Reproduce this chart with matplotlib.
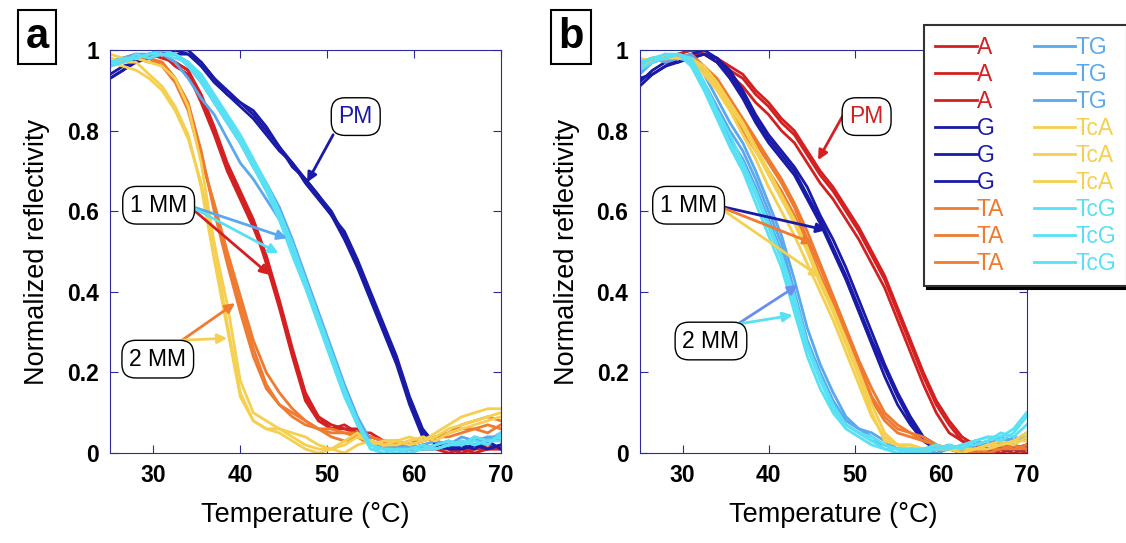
import matplotlib
matplotlib.use("Agg")
import matplotlib.pyplot as plt

plt.rcParams['font.family'] = ['Liberation Sans', 'DejaVu Sans']

# temperature grid shared by all melting curves (deg C)
temps = [25, 26.5, 28, 29.5, 31, 32.5, 34, 35.5, 37, 38.5, 40, 41.5, 43, 44.5, 46,
         47.5, 49, 50.5, 52, 53.5, 55, 56.5, 58, 59.5, 61, 62.5, 64, 65.5, 67, 68.5, 70]

names = ["A", "G", "TA", "TG", "TcA", "TcG"]
colors = {"A": "#d42020", "G": "#1a1aa8", "TA": "#ef7a30",
          "TG": "#5aa8ee", "TcA": "#f5d050", "TcG": "#58e0f5"}

# ---- panel a : probe with A ----
a_A = [
    [0.97, 0.98, 0.98, 0.99, 0.99, 0.97, 0.95, 0.88, 0.80, 0.71, 0.64, 0.57, 0.47, 0.36, 0.24, 0.13,
     0.08, 0.06, 0.07, 0.05, 0.04, 0.03, 0.02, 0.01, 0.01, 0.01, 0.0, 0.01, 0.01, 0.01, 0.01],
    [0.96, 0.98, 0.99, 0.98, 0.99, 0.96, 0.94, 0.87, 0.79, 0.70, 0.63, 0.56, 0.48, 0.37, 0.25, 0.14,
     0.09, 0.07, 0.06, 0.06, 0.03, 0.02, 0.02, 0.01, 0.02, 0.01, 0.01, 0.0, 0.01, 0.02, 0.01],
    [0.97, 0.97, 0.98, 0.99, 0.98, 0.97, 0.95, 0.89, 0.81, 0.72, 0.65, 0.58, 0.49, 0.38, 0.26, 0.15,
     0.09, 0.06, 0.06, 0.05, 0.05, 0.03, 0.01, 0.01, 0.01, 0.02, 0.01, 0.01, 0.0, 0.01, 0.01],
]
a_G = [
    [0.93, 0.95, 0.97, 0.98, 0.99, 1.0, 0.99, 0.97, 0.93, 0.90, 0.87, 0.84, 0.80, 0.76, 0.72, 0.68,
     0.64, 0.60, 0.54, 0.47, 0.39, 0.31, 0.23, 0.13, 0.05, 0.03, 0.02, 0.01, 0.02, 0.01, 0.02],
    [0.94, 0.96, 0.97, 0.99, 1.0, 0.99, 0.99, 0.96, 0.92, 0.89, 0.86, 0.83, 0.79, 0.75, 0.72, 0.67,
     0.63, 0.59, 0.55, 0.48, 0.40, 0.32, 0.24, 0.14, 0.06, 0.02, 0.01, 0.02, 0.01, 0.03, 0.01],
    [0.93, 0.95, 0.98, 0.98, 0.99, 1.0, 1.0, 0.97, 0.93, 0.89, 0.87, 0.85, 0.81, 0.76, 0.71, 0.68,
     0.64, 0.59, 0.53, 0.46, 0.38, 0.30, 0.22, 0.12, 0.04, 0.03, 0.01, 0.01, 0.02, 0.01, 0.02],
]
a_TA = [
    [0.97, 0.98, 0.98, 0.98, 0.97, 0.93, 0.86, 0.74, 0.61, 0.48, 0.37, 0.26, 0.17, 0.12, 0.09, 0.07,
     0.06, 0.05, 0.05, 0.05, 0.04, 0.03, 0.02, 0.03, 0.03, 0.04, 0.05, 0.06, 0.06, 0.07, 0.06],
    [0.96, 0.97, 0.99, 0.98, 0.96, 0.92, 0.85, 0.73, 0.62, 0.50, 0.39, 0.28, 0.20, 0.15, 0.11, 0.08,
     0.06, 0.04, 0.03, 0.04, 0.02, 0.02, 0.03, 0.02, 0.03, 0.04, 0.04, 0.05, 0.06, 0.05, 0.07],
    [0.97, 0.98, 0.98, 0.97, 0.97, 0.93, 0.87, 0.75, 0.60, 0.47, 0.35, 0.24, 0.16, 0.12, 0.10, 0.08,
     0.06, 0.06, 0.05, 0.04, 0.04, 0.03, 0.03, 0.02, 0.03, 0.04, 0.05, 0.07, 0.08, 0.09, 0.08],
]
a_TG = [
    [0.97, 0.98, 0.98, 0.99, 0.99, 0.99, 0.96, 0.92, 0.87, 0.82, 0.77, 0.71, 0.66, 0.60, 0.51, 0.43,
     0.34, 0.25, 0.16, 0.08, 0.02, 0.01, 0.01, 0.02, 0.01, 0.02, 0.03, 0.02, 0.04, 0.03, 0.05],
    [0.97, 0.98, 0.99, 0.98, 0.99, 0.97, 0.93, 0.88, 0.84, 0.78, 0.72, 0.68, 0.63, 0.58, 0.50, 0.42,
     0.33, 0.24, 0.15, 0.07, 0.02, 0.01, 0.02, 0.01, 0.02, 0.03, 0.02, 0.04, 0.03, 0.04, 0.03],
    [0.98, 0.97, 0.99, 0.99, 1.0, 0.99, 0.97, 0.93, 0.88, 0.83, 0.78, 0.72, 0.67, 0.61, 0.53, 0.44,
     0.35, 0.26, 0.17, 0.09, 0.03, 0.01, 0.01, 0.02, 0.01, 0.01, 0.02, 0.03, 0.02, 0.04, 0.04],
]
a_TcA = [
    [0.98, 0.97, 0.97, 0.94, 0.91, 0.86, 0.79, 0.66, 0.48, 0.31, 0.14, 0.08, 0.06, 0.06, 0.04, 0.02,
     0.01, 0.01, 0.03, 0.05, 0.02, 0.03, 0.03, 0.02, 0.03, 0.04, 0.06, 0.07, 0.08, 0.09, 0.10],
    [0.99, 0.98, 0.98, 0.97, 0.96, 0.93, 0.86, 0.72, 0.52, 0.32, 0.15, 0.08, 0.06, 0.05, 0.03, 0.01,
     0.0, 0.01, 0.02, 0.04, 0.03, 0.02, 0.03, 0.04, 0.03, 0.05, 0.07, 0.09, 0.10, 0.11, 0.11],
    [0.97, 0.96, 0.95, 0.93, 0.90, 0.85, 0.78, 0.67, 0.52, 0.37, 0.18, 0.10, 0.08, 0.06, 0.05, 0.04,
     0.02, 0.01, 0.0, 0.02, 0.03, 0.02, 0.02, 0.03, 0.04, 0.03, 0.05, 0.06, 0.07, 0.08, 0.09],
]
a_TcG = [
    [0.96, 0.97, 0.98, 0.99, 0.99, 0.99, 0.97, 0.93, 0.88, 0.83, 0.78, 0.72, 0.66, 0.59, 0.50, 0.42,
     0.33, 0.24, 0.15, 0.08, 0.01, 0.0, 0.01, 0.01, 0.02, 0.01, 0.02, 0.03, 0.02, 0.03, 0.04],
    [0.97, 0.98, 0.98, 0.99, 1.0, 0.99, 0.96, 0.92, 0.87, 0.82, 0.77, 0.71, 0.65, 0.58, 0.49, 0.41,
     0.32, 0.23, 0.14, 0.07, 0.01, 0.01, 0.0, 0.01, 0.01, 0.02, 0.03, 0.02, 0.03, 0.02, 0.05],
    [0.97, 0.97, 0.99, 0.98, 0.99, 0.98, 0.97, 0.94, 0.89, 0.84, 0.79, 0.73, 0.67, 0.60, 0.52, 0.43,
     0.34, 0.25, 0.16, 0.08, 0.02, 0.01, 0.01, 0.0, 0.01, 0.01, 0.02, 0.02, 0.04, 0.03, 0.03],
]

# ---- panel b : probe with G ----
b_A = [
    [0.96, 0.97, 0.98, 0.99, 1.0, 0.99, 0.98, 0.95, 0.93, 0.89, 0.86, 0.82, 0.79, 0.74, 0.69, 0.65,
     0.60, 0.55, 0.49, 0.43, 0.35, 0.27, 0.19, 0.12, 0.07, 0.03, 0.02, 0.01, 0.01, 0.0, 0.01],
    [0.97, 0.98, 0.98, 0.99, 1.0, 0.99, 0.97, 0.94, 0.91, 0.87, 0.84, 0.80, 0.77, 0.72, 0.67, 0.63,
     0.58, 0.53, 0.47, 0.41, 0.33, 0.25, 0.17, 0.10, 0.05, 0.03, 0.01, 0.01, 0.0, 0.01, 0.02],
    [0.95, 0.97, 0.99, 0.98, 0.99, 0.99, 0.98, 0.96, 0.94, 0.90, 0.87, 0.83, 0.80, 0.75, 0.70, 0.66,
     0.61, 0.56, 0.50, 0.44, 0.36, 0.28, 0.20, 0.13, 0.08, 0.04, 0.02, 0.01, 0.01, 0.01, 0.0],
]
b_G = [
    [0.91, 0.94, 0.96, 0.97, 0.98, 0.99, 0.98, 0.94, 0.89, 0.83, 0.78, 0.74, 0.70, 0.64, 0.58, 0.51,
     0.44, 0.36, 0.28, 0.21, 0.14, 0.08, 0.03, 0.01, 0.01, 0.0, 0.01, 0.01, 0.01, 0.02, 0.01],
    [0.92, 0.95, 0.97, 0.97, 0.99, 1.0, 0.98, 0.95, 0.90, 0.84, 0.79, 0.75, 0.71, 0.66, 0.59, 0.53,
     0.46, 0.38, 0.30, 0.22, 0.15, 0.09, 0.04, 0.02, 0.01, 0.01, 0.0, 0.01, 0.02, 0.01, 0.02],
    [0.93, 0.94, 0.96, 0.98, 0.98, 0.99, 0.97, 0.93, 0.88, 0.82, 0.77, 0.73, 0.69, 0.63, 0.57, 0.50,
     0.43, 0.35, 0.27, 0.19, 0.12, 0.07, 0.03, 0.01, 0.01, 0.01, 0.01, 0.0, 0.01, 0.01, 0.01],
]
b_TA = [
    [0.96, 0.97, 0.98, 0.99, 0.98, 0.96, 0.92, 0.87, 0.82, 0.77, 0.72, 0.67, 0.61, 0.53, 0.46, 0.38,
     0.30, 0.22, 0.14, 0.09, 0.06, 0.05, 0.03, 0.02, 0.01, 0.01, 0.0, 0.01, 0.01, 0.01, 0.02],
    [0.97, 0.98, 0.98, 0.98, 0.99, 0.96, 0.93, 0.88, 0.83, 0.78, 0.73, 0.68, 0.62, 0.55, 0.47, 0.39,
     0.31, 0.23, 0.16, 0.10, 0.07, 0.05, 0.04, 0.02, 0.01, 0.0, 0.01, 0.01, 0.02, 0.01, 0.01],
    [0.96, 0.98, 0.97, 0.98, 0.98, 0.95, 0.91, 0.86, 0.80, 0.75, 0.70, 0.65, 0.59, 0.52, 0.44, 0.37,
     0.28, 0.20, 0.13, 0.08, 0.05, 0.04, 0.03, 0.02, 0.01, 0.01, 0.01, 0.0, 0.01, 0.02, 0.01],
]
b_TG = [
    [0.95, 0.97, 0.98, 0.99, 0.98, 0.92, 0.86, 0.80, 0.75, 0.68, 0.60, 0.52, 0.40, 0.28, 0.20, 0.13,
     0.08, 0.06, 0.04, 0.02, 0.01, 0.01, 0.01, 0.0, 0.01, 0.01, 0.02, 0.02, 0.03, 0.03, 0.04],
    [0.96, 0.98, 0.97, 0.98, 0.97, 0.91, 0.84, 0.78, 0.73, 0.66, 0.58, 0.50, 0.38, 0.27, 0.19, 0.12,
     0.07, 0.05, 0.03, 0.02, 0.01, 0.0, 0.01, 0.01, 0.01, 0.02, 0.03, 0.02, 0.04, 0.03, 0.05],
    [0.94, 0.97, 0.98, 0.98, 0.99, 0.94, 0.88, 0.82, 0.77, 0.70, 0.62, 0.54, 0.43, 0.31, 0.22, 0.15,
     0.09, 0.06, 0.05, 0.03, 0.01, 0.01, 0.0, 0.01, 0.02, 0.01, 0.02, 0.03, 0.02, 0.04, 0.03],
]
b_TcA = [
    [0.97, 0.98, 0.98, 0.98, 0.98, 0.95, 0.91, 0.86, 0.81, 0.75, 0.69, 0.63, 0.57, 0.50, 0.42, 0.35,
     0.27, 0.19, 0.10, 0.03, 0.02, 0.02, 0.01, 0.01, 0.01, 0.01, 0.01, 0.02, 0.03, 0.02, 0.04],
    [0.96, 0.97, 0.98, 0.99, 0.97, 0.94, 0.90, 0.85, 0.79, 0.73, 0.66, 0.60, 0.54, 0.47, 0.40, 0.33,
     0.25, 0.17, 0.09, 0.04, 0.02, 0.01, 0.01, 0.02, 0.01, 0.0, 0.01, 0.02, 0.02, 0.03, 0.03],
    [0.98, 0.97, 0.99, 0.98, 0.98, 0.96, 0.92, 0.87, 0.82, 0.76, 0.70, 0.64, 0.58, 0.51, 0.43, 0.36,
     0.28, 0.20, 0.12, 0.05, 0.02, 0.02, 0.01, 0.01, 0.01, 0.01, 0.01, 0.01, 0.02, 0.03, 0.05],
]
b_TcG = [
    [0.96, 0.98, 0.99, 0.99, 0.97, 0.91, 0.84, 0.77, 0.71, 0.64, 0.56, 0.48, 0.37, 0.26, 0.18, 0.11,
     0.07, 0.05, 0.03, 0.01, 0.01, 0.0, 0.01, 0.01, 0.02, 0.01, 0.03, 0.04, 0.03, 0.05, 0.09],
    [0.95, 0.97, 0.98, 0.99, 0.96, 0.90, 0.83, 0.76, 0.70, 0.62, 0.54, 0.46, 0.35, 0.24, 0.16, 0.10,
     0.06, 0.04, 0.02, 0.01, 0.0, 0.01, 0.01, 0.02, 0.01, 0.02, 0.02, 0.03, 0.05, 0.04, 0.07],
    [0.97, 0.98, 0.98, 0.99, 0.98, 0.92, 0.85, 0.79, 0.72, 0.65, 0.57, 0.49, 0.39, 0.27, 0.19, 0.12,
     0.07, 0.05, 0.04, 0.02, 0.01, 0.01, 0.0, 0.01, 0.01, 0.02, 0.03, 0.04, 0.04, 0.06, 0.10],
]

panel_a = {"A": a_A, "G": a_G, "TA": a_TA, "TG": a_TG, "TcA": a_TcA, "TcG": a_TcG}
panel_b = {"A": b_A, "G": b_G, "TA": b_TA, "TG": b_TG, "TcA": b_TcA, "TcG": b_TcG}

# annotation anchor points (box centre, arrow start, arrow targets)
ann_a = [
    ("PM", colors["G"], (53.3, 0.835), (50.7, 0.79), [((47.7, 0.672), colors["G"])]),
    ("1 MM", "k", (30.6, 0.615), (34.0, 0.615), [((43.4, 0.442), colors["A"]),
                                                 ((45.4, 0.533), colors["TG"]),
                                                 ((44.4, 0.496), colors["TcG"])]),
    ("2 MM", "k", (30.5, 0.233), (33.3, 0.28), [((39.4, 0.372), colors["TA"]),
                                                ((38.5, 0.285), colors["TcA"])]),
]
ann_b = [
    ("PM", colors["A"], (51.4, 0.835), (48.7, 0.84), [((45.75, 0.727), colors["A"])]),
    ("1 MM", "k", (30.7, 0.615), (33.9, 0.615), [((46.7, 0.553), colors["G"]),
                                                 ((45.2, 0.52), colors["TA"]),
                                                 ((46.0, 0.437), colors["TcA"])]),
    ("2 MM", "k", (33.3, 0.278), (36.4, 0.32), [((43.4, 0.417), "#6a8ef0"),
                                                ((42.8, 0.342), colors["TcG"])]),
]

spine_col = "#2b2b9b"

fig = plt.figure(figsize=(11.26, 5.43), dpi=100)
ax_a = fig.add_axes([0.0977, 0.1657, 0.347, 0.742])
ax_b = fig.add_axes([0.568, 0.1657, 0.3437, 0.742])


def draw_panel(ax, data, anns):
    handles = []
    for name in names:
        for rep in data[name]:
            h, = ax.plot(temps, rep, color=colors[name], lw=2)
            handles.append(h)
    ax.set_xlim(25, 70)
    ax.set_ylim(0, 1)
    ax.set_xticks([30, 40, 50, 60, 70])
    ax.set_yticks([0, 0.2, 0.4, 0.6, 0.8, 1])
    ax.set_yticklabels(["0", "0.2", "0.4", "0.6", "0.8", "1"])
    ax.tick_params(direction="in", top=True, right=True, length=6, color=spine_col,
                   labelsize=16.5, pad=8)
    for lab in ax.get_xticklabels() + ax.get_yticklabels():
        lab.set_fontweight("bold")
    for sp in ax.spines.values():
        sp.set_color(spine_col)
    ax.set_xlabel("Temperature (\u00b0C)", fontsize=19.5, labelpad=11)
    ax.set_ylabel("Normalized reflectivity", fontsize=19.5, labelpad=12)

    for text, tcol, center, start, targets in anns:
        for xy, acol in targets:
            ax.annotate("", xy=xy, xytext=start,
                        arrowprops=dict(arrowstyle="-|>", color=acol, lw=2,
                                        mutation_scale=14, shrinkA=0, shrinkB=0))
        ax.text(center[0], center[1], text, color=tcol, fontsize=16.5,
                ha="center", va="center", zorder=5,
                bbox=dict(boxstyle="round,pad=0.32,rounding_size=0.6",
                          fc="white", ec="k", lw=1))
    return handles


draw_panel(ax_a, panel_a, ann_a)
handles = draw_panel(ax_b, panel_b, ann_b)

# panel letters
for xpos, letter in [(0.033, "a"), (0.507, "b")]:
    fig.text(xpos, 0.932, letter, fontsize=30, fontweight="bold", ha="center", va="center",
             bbox=dict(boxstyle="square,pad=0.17", fc="white", ec="k", lw=1.5))

labels = []
for name in names:
    labels += [name] * 3
leg = fig.legend(handles, labels, loc="upper left", bbox_to_anchor=(0.8206, 0.954),
                 borderaxespad=0, ncol=2, fontsize=16.5, handlelength=1.8,
                 handletextpad=0.0, columnspacing=1.3, labelspacing=0.17,
                 borderpad=0.5, fancybox=False, framealpha=1, edgecolor="#333333",
                 shadow={"color": "black", "alpha": 1})
leg.get_frame().set_linewidth(1.5)
for txt, name in zip(leg.get_texts(), labels):
    txt.set_color(colors[name])

fig.savefig("out.png", dpi=100)
